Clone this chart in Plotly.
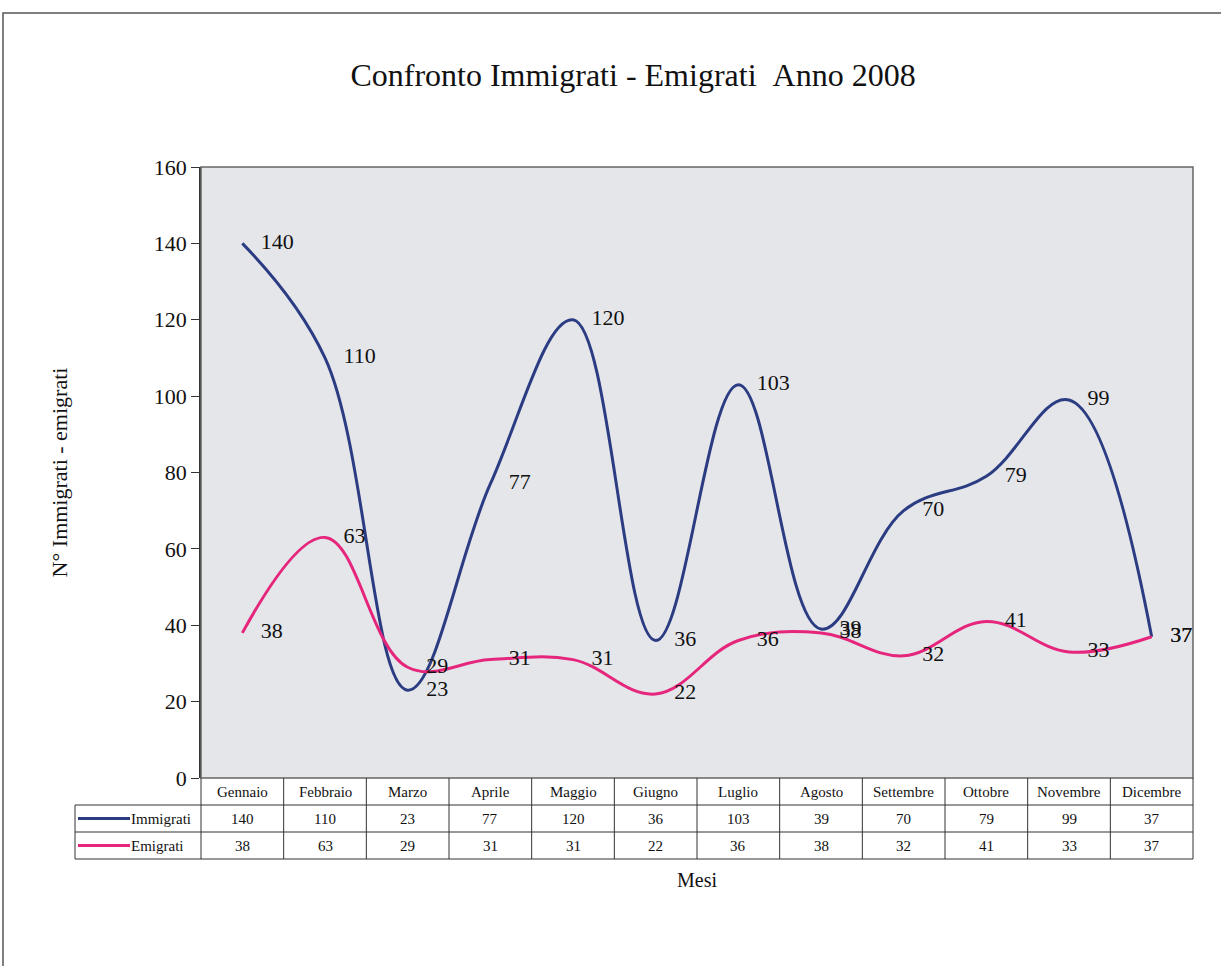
import plotly.graph_objects as go

# ---- data ----
months = ["Gennaio", "Febbraio", "Marzo", "Aprile", "Maggio", "Giugno",
          "Luglio", "Agosto", "Settembre", "Ottobre", "Novembre", "Dicembre"]
immigrati = [140, 110, 23, 77, 120, 36, 103, 39, 70, 79, 99, 37]
emigrati = [38, 63, 29, 31, 31, 22, 36, 38, 32, 41, 33, 37]
series_names = ["Immigrati", "Emigrati"]
y_ticks = [0, 20, 40, 60, 80, 100, 120, 140, 160]

title_text = "Confronto Immigrati - Emigrati\u00a0\u00a0Anno 2008"
x_title = "Mesi"
y_title = "N° Immigrati - emigrati"

# ---- style ----
W, H = 1221, 966
PL, PR, PT, PB = 201, 1193, 167, 778  # plot area in px
FONT = "Liberation Serif, Times New Roman, serif"
C_IMM = "#2c3c82"
C_EMI = "#e6267c"
BG = "#e4e6ea"

def px_x(px):
    return (px - PL) / (PR - PL)

def px_y(py):
    return (PB - py) / (PB - PT)

fig = go.Figure()
for name, vals, col in [(series_names[0], immigrati, C_IMM), (series_names[1], emigrati, C_EMI)]:
    fig.add_trace(go.Scatter(
        x=months, y=vals, name=name,
        mode="lines+markers+text",
        line=dict(color=col, width=3, shape="spline", smoothing=1.1),
        marker=dict(size=28, color="rgba(0,0,0,0)"),
        text=[str(v) for v in vals], textposition="middle right",
        textfont=dict(family=FONT, size=22, color="#111"),
        cliponaxis=False, showlegend=False,
    ))

shapes = []
# outer frame (top and left)
shapes.append(dict(type="path", xref="paper", yref="paper",
                   path=f"M {px_x(1230)},{px_y(13)} L {px_x(3)},{px_y(13)} L {px_x(3)},{px_y(980)}",
                   line=dict(color="#555", width=1.5)))
# plot border
shapes.append(dict(type="rect", xref="paper", yref="paper", x0=0, x1=1, y0=0, y1=1,
                   line=dict(color="#666", width=1.5), layer="above"))

# data table geometry
n = len(months)
row_px = [PB, 805, 832, 859]
left_px = 75
for r in row_px[1:]:
    shapes.append(dict(type="line", xref="paper", yref="paper", x0=px_x(left_px), x1=1,
                       y0=px_y(r), y1=px_y(r), line=dict(color="#333", width=1)))
for i in range(n + 1):
    xv = i / n
    shapes.append(dict(type="line", xref="paper", yref="paper", x0=xv, x1=xv,
                       y0=0, y1=px_y(row_px[3]), line=dict(color="#333", width=1)))
shapes.append(dict(type="line", xref="paper", yref="paper", x0=px_x(left_px), x1=px_x(left_px),
                   y0=px_y(row_px[1]), y1=px_y(row_px[3]), line=dict(color="#333", width=1)))

annotations = []
tfont = dict(family=FONT, size=15, color="#111")
for i, m in enumerate(months):
    xc = (i + 0.5) / n
    annotations.append(dict(x=xc, y=px_y((row_px[0] + row_px[1]) / 2), xref="paper", yref="paper",
                            text=m, showarrow=False, font=tfont,
                            xanchor="center", yanchor="middle"))
    for r, vals in enumerate([immigrati, emigrati]):
        annotations.append(dict(x=xc, y=px_y((row_px[r + 1] + row_px[r + 2]) / 2),
                                xref="paper", yref="paper", text=str(vals[i]),
                                showarrow=False, font=tfont,
                                xanchor="center", yanchor="middle"))
# legend keys in table
for r, (name, col) in enumerate([(series_names[0], C_IMM), (series_names[1], C_EMI)]):
    yc = px_y((row_px[r + 1] + row_px[r + 2]) / 2)
    shapes.append(dict(type="line", xref="paper", yref="paper", x0=px_x(78), x1=px_x(130),
                       y0=yc, y1=yc, line=dict(color=col, width=3)))
    annotations.append(dict(x=px_x(129), y=yc, xref="paper", yref="paper", text=name,
                            xanchor="left", yanchor="middle", showarrow=False, font=tfont))
# x-axis title
annotations.append(dict(x=0.5, y=px_y(880), xref="paper", yref="paper", text=x_title,
                        xanchor="center", yanchor="middle",
                        showarrow=False, font=dict(family=FONT, size=20, color="#111")))

fig.update_layout(
    width=W, height=H,
    margin=dict(l=PL, r=W - PR, t=PT, b=H - PB, pad=0),
    paper_bgcolor="white", plot_bgcolor=BG,
    title=dict(text=title_text, x=633 / W, xref="container", xanchor="center",
               y=1 - 75 / H, yref="container", yanchor="middle",
               font=dict(family=FONT, size=32, color="#111")),
    xaxis=dict(showticklabels=False, showgrid=False, zeroline=False, ticks="",
               range=[-0.5, n - 0.5], fixedrange=True),
    yaxis=dict(range=[0, 160], tickvals=y_ticks, ticks="outside", ticklen=8,
               tickcolor="#333", showgrid=False, zeroline=False,
               showline=True, linecolor="#333", linewidth=1.5,
               tickfont=dict(family=FONT, size=22, color="#111"),
               title=dict(text=y_title, font=dict(family=FONT, size=22, color="#111"), standoff=80)),
    shapes=shapes, annotations=annotations,
    font=dict(family=FONT),
)

fig.write_html("out.html", config={"displayModeBar": False},
               post_script="document.body.style.margin='0';")
